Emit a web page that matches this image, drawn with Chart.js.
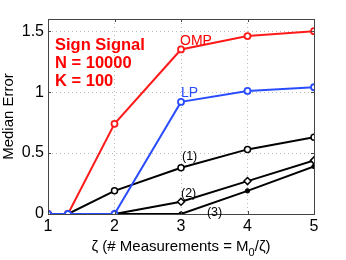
<!DOCTYPE html>
<html>
<head>
<meta charset="utf-8">
<script src="https://cdn.jsdelivr.net/npm/chart.js@4.4.1/dist/chart.umd.min.js"></script>
<style>
html, body { margin: 0; padding: 0; background: #fff; }
#wrap { width: 346px; height: 260px; }
</style>
</head>
<body>
<div id="wrap"><canvas id="errChart" width="346" height="260"></canvas></div>
<script>
// x = zeta values
var zeta = [1, 1.3, 2, 3, 4, 5];
var omp = [0, 0, 0.74, 1.35, 1.46, 1.50];
var lp = [0, 0, 0, 0.92, 1.01, 1.04];
var curve1 = [0, 0, 0.19, 0.38, 0.53, 0.63];
var curve2 = [0, 0, 0, 0.10, 0.27, 0.44];
var curve3 = [0, 0, 0, 0, 0.19, 0.39];
var yTicks = [0, 0.5, 1, 1.5];
var xTicks = [1, 2, 3, 4, 5];

function pts(ys) {
  return zeta.map(function (x, i) { return { x: x, y: ys[i] }; });
}

var FONT = "'Liberation Sans', Arial, sans-serif";

// box, inner ticks, labels
var extras = {
  id: 'extras',
  afterDraw: function (chart) {
    var c = chart.ctx, a = chart.chartArea;
    var xs = chart.scales.x, ys = chart.scales.y;
    c.save();
    c.strokeStyle = '#444';
    c.lineWidth = 1;
    c.strokeRect(a.left + 0.5, a.top + 0.5, a.right - a.left, a.bottom - a.top);
    c.beginPath();
    xTicks.forEach(function (t) {
      var px = Math.round(xs.getPixelForValue(t)) + 0.5;
      c.moveTo(px, a.bottom); c.lineTo(px, a.bottom - 3);
      c.moveTo(px, a.top); c.lineTo(px, a.top + 3);
    });
    yTicks.forEach(function (t) {
      var py = Math.round(ys.getPixelForValue(t)) + 0.5;
      c.moveTo(a.left, py); c.lineTo(a.left + 3, py);
      c.moveTo(a.right, py); c.lineTo(a.right - 3, py);
    });
    c.stroke();

    // annotation text
    c.fillStyle = '#ff0000';
    c.font = 'bold 16.5px ' + FONT;
    c.textBaseline = 'alphabetic';
    c.fillText('Sign Signal', a.left + 7, a.top + 31);
    c.fillText('N = 10000', a.left + 7, a.top + 49);
    c.fillText('K = 100', a.left + 7, a.top + 67);

    c.font = '14px ' + FONT;
    c.fillStyle = '#ff0000';
    c.fillText('OMP', xs.getPixelForValue(3) - 1, ys.getPixelForValue(1.39));
    c.fillStyle = '#2a4cff';
    c.fillText('LP', xs.getPixelForValue(3), ys.getPixelForValue(0.96));
    c.fillStyle = '#000';
    c.font = '12.5px ' + FONT;
    c.fillText('(1)', xs.getPixelForValue(3) + 1, ys.getPixelForValue(0.44));
    c.fillText('(2)', xs.getPixelForValue(3), ys.getPixelForValue(0.14));
    c.fillText('(3)', xs.getPixelForValue(3.39), ys.getPixelForValue(-0.015));

    // x axis title with subscript
    c.fillStyle = '#000';
    c.font = '15px ' + FONT;
    var p1 = '\u03b6 (# Measurements = M';
    var w1 = c.measureText(p1).width;
    c.font = '11px ' + FONT;
    var w2 = c.measureText('0').width;
    c.font = '15px ' + FONT;
    var p3 = '/\u03b6)';
    var w3 = c.measureText(p3).width;
    var cx = (a.left + a.right) / 2;
    var x0 = cx - (w1 + w2 + w3) / 2;
    var by = 251;
    c.fillText(p1, x0, by);
    c.font = '11px ' + FONT;
    c.fillText('0', x0 + w1, by + 5);
    c.font = '15px ' + FONT;
    c.fillText(p3, x0 + w1 + w2, by);
    c.restore();
  }
};

var ctx = document.getElementById('errChart');
new Chart(ctx, {
  type: 'line',
  data: {
    datasets: [
      { label: 'LP', data: pts(lp), borderColor: '#2a4cff', backgroundColor: '#fff',
        pointBorderColor: '#2a4cff', borderWidth: 2, pointRadius: 3, pointBorderWidth: 1.8, order: 1 },
      { label: 'OMP', data: pts(omp), borderColor: '#ff1a1a', backgroundColor: '#fff',
        pointBorderColor: '#ff1a1a', borderWidth: 2, pointRadius: 3, pointBorderWidth: 1.8, order: 2 },
      { label: '(1)', data: pts(curve1), borderColor: '#000', backgroundColor: '#fff',
        pointBorderColor: '#000', borderWidth: 2, pointRadius: 3, pointBorderWidth: 1.5, order: 3 },
      { label: '(2)', data: pts(curve2), borderColor: '#000', backgroundColor: '#fff',
        pointStyle: 'rectRot', pointBorderColor: '#000', borderWidth: 2, pointRadius: 3.5, pointBorderWidth: 1.5, order: 4 },
      { label: '(3)', data: pts(curve3), borderColor: '#000', backgroundColor: '#000',
        pointBorderColor: '#000', borderWidth: 2, pointRadius: 2.2, pointBorderWidth: 1, order: 5 }
    ]
  },
  options: {
    responsive: false,
    animation: false,
    layout: { padding: { left: 0, right: 32, top: 19, bottom: 0 } },
    plugins: { legend: { display: false }, tooltip: { enabled: false } },
    scales: {
      x: {
        type: 'linear', min: 1, max: 5,
        afterBuildTicks: function (s) { s.ticks = xTicks.map(function (v) { return { value: v }; }); },
        afterFit: function (s) { s.height = 46; },
        grid: { color: '#bbb', tickLength: 0, drawTicks: false },
        border: { display: false, dash: [1, 3] },
        ticks: { color: '#000', font: { family: FONT, size: 16 }, padding: 3, maxRotation: 0,
          callback: function (v) { return String(v); } }
      },
      y: {
        type: 'linear', min: 0, max: 1.6,
        afterBuildTicks: function (s) { s.ticks = yTicks.map(function (v) { return { value: v }; }); },
        afterFit: function (s) { s.width = 48; },
        grid: { color: '#bbb', tickLength: 0, drawTicks: false },
        border: { display: false, dash: [1, 3] },
        ticks: { color: '#000', font: { family: FONT, size: 16 }, padding: 4,
          callback: function (v) { return String(v); } },
        title: { display: true, text: 'Median Error', color: '#000', font: { family: FONT, size: 15 }, padding: 0 }
      }
    }
  },
  plugins: [extras]
});
</script>
</body>
</html>
